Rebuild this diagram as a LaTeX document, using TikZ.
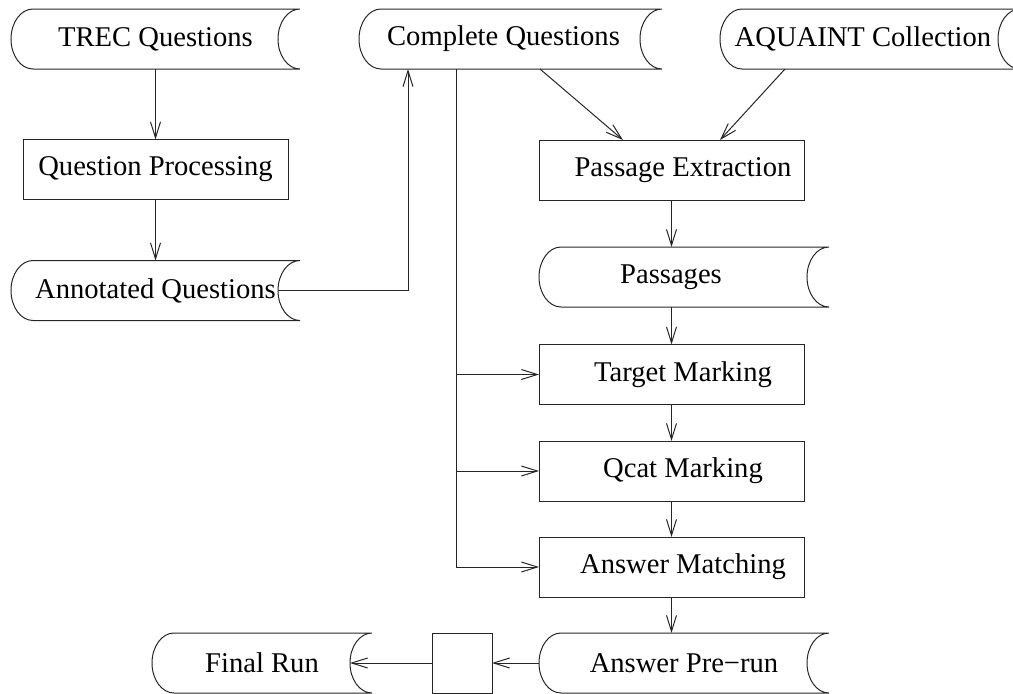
\documentclass[tikz,border=0pt]{standalone}
\usepackage{fontspec}
\setmainfont{Liberation Serif}
\usetikzlibrary{arrows.meta,calc}
\tikzset{
  ln/.style={draw=black!85, line width=1pt},
  arr/.style={ln, -{Straight Barb[length=16pt,width=10pt,line width=1pt]}},
  base/.style={inner sep=0pt, outer sep=0pt, minimum height=60pt, font=\fontsize{28.6}{34}\selectfont},
  store/.style={base, draw=none},
  proc/.style={base, ln},
}
\newcommand\storeoutline[1]{%
  \draw[ln] ([xshift=22pt]#1.north west) -- (#1.north east)
    arc[start angle=90,end angle=270,x radius=22pt,y radius=30pt]
    -- ([xshift=22pt]#1.south west)
    arc[start angle=270,end angle=90,x radius=22pt,y radius=30pt] -- cycle;}
\begin{document}
\begin{tikzpicture}[x=1pt,y=-1pt]
\useasboundingbox (0,0) rectangle (1013,694);
\clip (0,0) rectangle (1013,694);
% storage shapes
\node[store, minimum width=289pt] (trec) at (155.5,39) {TREC Questions};
\node[store, minimum width=303pt] (cq) at (510.5,39) {Complete Questions\hspace*{14pt}};
\node[store, minimum width=300pt] (aq) at (870,39) {AQUAINT Collection\hspace*{14pt}};
\node[store, minimum width=289pt] (ann) at (155.5,290.5) {Annotated Questions};
\node[store, minimum width=290pt] (pas) at (684,277) {Passages\hspace*{26pt}};
\node[store, minimum width=290pt] (apr) at (684,663) {Answer Pre{\fontspec{Liberation Serif}\char"2212}run};
\node[store, minimum width=220pt] (fr) at (262,663) {Final Run};
\foreach \n in {trec,cq,aq,ann,pas,apr,fr} {\storeoutline{\n}}
% process boxes
\node[proc, minimum width=265pt] (qp) at (155.5,169.5) {Question Processing};
\node[proc, minimum width=265pt] (pe) at (671.5,170) {\hspace*{23pt}Passage Extraction};
\node[proc, minimum width=265pt] (tm) at (671.5,374.5) {\hspace*{23pt}Target Marking};
\node[proc, minimum width=265pt] (qm) at (671.5,471) {\hspace*{23pt}Qcat Marking};
\node[proc, minimum width=265pt] (am) at (671.5,567) {\hspace*{23pt}Answer Matching};
\node[proc, minimum width=60pt] (sq) at (462,663) {};
% connectors
\draw[arr] (trec.south) -- (qp.north);
\draw[arr] (qp.south) -- (ann.north);
\draw[arr] ([xshift=-22pt]ann.east) -| ([xshift=49pt]cq.south west);
\coordinate (trunk) at ([xshift=97pt]cq.south west);
\draw[arr] (trunk) |- (tm.west);
\draw[arr] (trunk) |- (qm.west);
\draw[arr] (trunk) |- (am.west);
\draw[arr] ([xshift=181pt]cq.south west) -- ([xshift=84pt]pe.north west);
\draw[arr] ([xshift=65pt]aq.south west) -- ([xshift=181pt]pe.north west);
\draw[arr] (pe.south) -- (pe.south |- pas.north);
\draw[arr] (tm.north |- pas.south) -- (tm.north);
\draw[arr] (tm.south) -- (qm.north);
\draw[arr] (qm.south) -- (am.north);
\draw[arr] (am.south) -- (am.south |- apr.north);
\draw[arr] (apr.west) -- (sq.east);
\draw[arr] (sq.west) -- ([xshift=-22pt]fr.east);
\end{tikzpicture}
\end{document}
